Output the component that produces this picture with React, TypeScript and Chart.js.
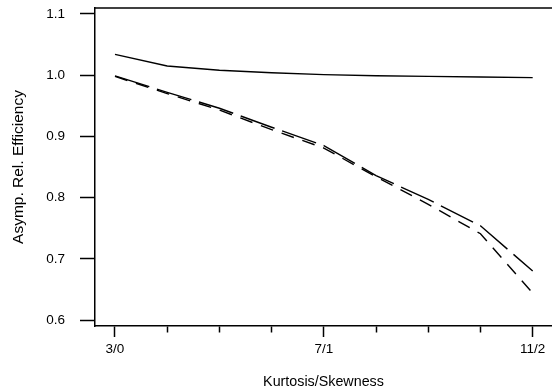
import React, { useEffect, useRef } from "react";
import { Chart, registerables } from "chart.js";

Chart.register(...registerables);

// Category positions along the x axis (index) and their tick labels
const xTickLabels = ["3/0", "", "", "", "7/1", "", "", "", "11/2"];
const majorTicks = ["3/0", "7/1", "11/2"];
const yTickValues = [0.6, 0.7, 0.8, 0.9, 1.0, 1.1];

// Series values
const solidSeries = [1.034, 1.015, 1.008, 1.004, 1.001, 0.999, 0.998, 0.997, 0.996];
const longDashSeries = [0.999, 0.972, 0.946, 0.915, 0.885, 0.836, 0.797, 0.754, 0.68];
const shortDashSeries = [0.998, 0.97, 0.943, 0.911, 0.881, 0.834, 0.789, 0.741, 0.644];

const FONT = "'Liberation Sans', Arial, Helvetica, sans-serif";

const frameTopPlugin = {
  id: "frameTop",
  afterDraw(chart: any) {
    const { ctx, chartArea } = chart;
    ctx.save();
    ctx.strokeStyle = "#000";
    ctx.lineWidth = 1.5;
    ctx.beginPath();
    ctx.moveTo(chartArea.left, chartArea.top);
    ctx.lineTo(chartArea.right, chartArea.top);
    ctx.stroke();
    ctx.restore();
  },
};

export default function App() {
  const ref = useRef<HTMLCanvasElement>(null);

  useEffect(() => {
    if (!ref.current) return;
    const toPts = (arr: number[]) => arr.map((v, i) => ({ x: i, y: v }));
    const common = {
      borderColor: "#000",
      borderWidth: 1.4,
      pointRadius: 0,
      tension: 0,
      fill: false,
      borderCapStyle: "butt" as const,
    };
    const chart = new Chart(ref.current, {
      type: "line",
      data: {
        datasets: [
          { ...common, label: "solid", data: toPts(solidSeries) },
          { ...common, label: "longdash", data: toPts(longDashSeries), borderDash: [36, 8] },
          { ...common, label: "dash", data: toPts(shortDashSeries), borderDash: [13, 9] },
        ],
      },
      options: {
        animation: false,
        responsive: false,
        layout: { padding: { left: 0, right: 0, top: 8, bottom: 0 } },
        plugins: { legend: { display: false }, tooltip: { enabled: false } },
        scales: {
          x: {
            type: "linear",
            min: -0.383,
            max: 8.37,
            afterBuildTicks: (scale: any) => {
              scale.ticks = xTickLabels.map((_, i) => ({ value: i }));
            },
            afterFit: (scale: any) => {
              scale.height = 66;
              scale.paddingLeft = 0;
              scale.paddingRight = 0;
            },
            ticks: {
              autoSkip: false,
              maxRotation: 0,
              padding: 4,
              color: "#000",
              font: { family: FONT, size: 13.5 },
              callback: (_v: any, i: number) => xTickLabels[i],
            },
            grid: {
              drawOnChartArea: false,
              drawTicks: true,
              tickLength: 11,
              tickColor: "#000",
              tickWidth: 1.5,
              tickBorderDash: (ctx: any) =>
                majorTicks.includes(xTickLabels[ctx.index]) ? [] : [6, 100],
            },
            border: { display: true, color: "#000", width: 1.5 },
            title: {
              display: true,
              text: "Kurtosis/Skewness",
              color: "#000",
              font: { family: FONT, size: 14.3 },
              padding: { top: 0, bottom: 1.5 },
            },
          },
          y: {
            type: "linear",
            min: 0.5902,
            max: 1.1098,
            afterBuildTicks: (scale: any) => {
              scale.ticks = yTickValues.map((v) => ({ value: v }));
            },
            afterFit: (scale: any) => {
              scale.width = 95;
              scale.paddingTop = 0;
              scale.paddingBottom = 0;
            },
            ticks: {
              padding: 15,
              color: "#000",
              font: { family: FONT, size: 13.5 },
              callback: (v: any) => Number(v).toFixed(1),
            },
            grid: {
              drawOnChartArea: false,
              drawTicks: true,
              tickLength: 15,
              tickColor: "#000",
              tickWidth: 1.5,
            },
            border: { display: true, color: "#000", width: 1.5 },
            title: {
              display: true,
              text: "Asymp. Rel. Efficiency",
              color: "#000",
              font: { family: FONT, size: 15.5 },
              padding: { top: 9, bottom: 0 },
            },
          },
        },
      },
      plugins: [frameTopPlugin],
    });
    return () => chart.destroy();
  }, []);

  return (
    <div style={{ position: "absolute", left: 0, top: 0, width: 552, height: 392, background: "#fff" }}>
      <canvas ref={ref} width={552} height={392} style={{ display: "block" }} />
    </div>
  );
}
